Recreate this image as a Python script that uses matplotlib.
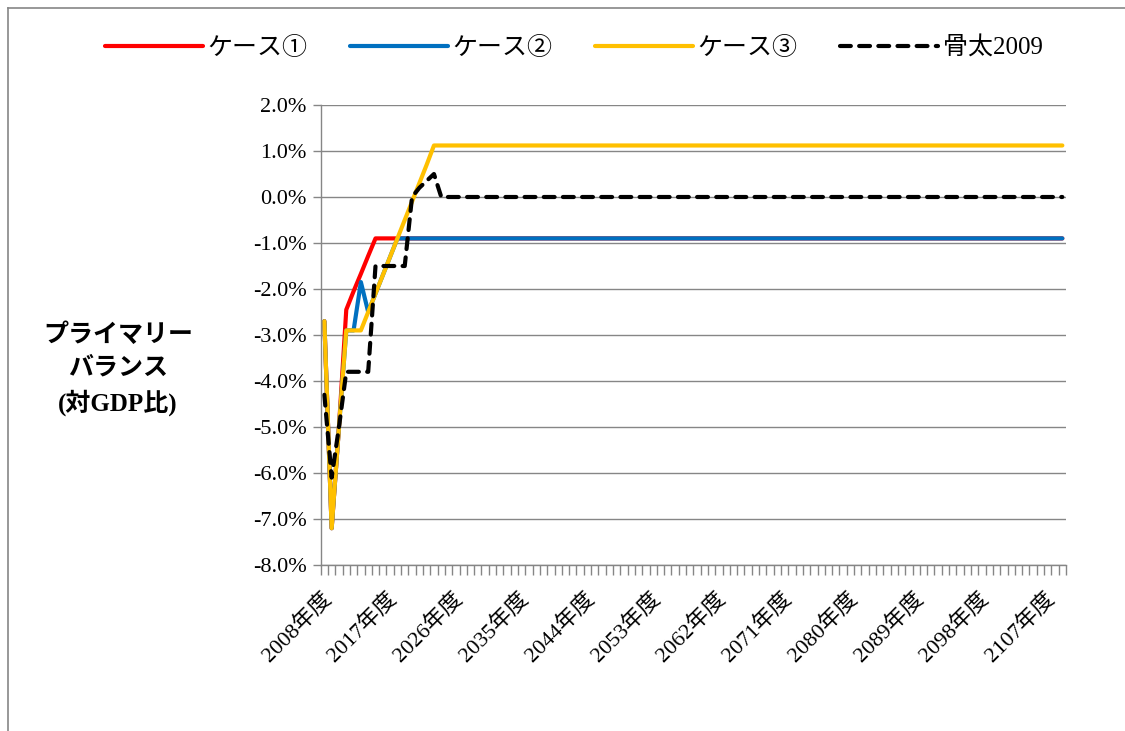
import numpy as np
import matplotlib
matplotlib.use("Agg")
import matplotlib.pyplot as plt
from matplotlib.lines import Line2D
import matplotlib.transforms as mtransforms

# fiscal years 2008..2109
years = list(range(2008, 2110))

# values (% of GDP); flat after the early years
case1 = [-2.7, -7.2, -5.0, -2.45, -2.05, -1.67, -1.28, -0.9] + [-0.9] * 94
case2 = [-2.7, -7.2, -5.0, -2.9, -2.9, -1.85, -2.5, -2.1, -1.7, -1.3, -0.9] + [-0.9] * 91
case3 = [-2.7, -7.2, -5.0, -2.9, -2.9, -2.9, -2.5, -2.1, -1.7, -1.3, -0.9,
         -0.5, -0.1, 0.3, 0.7, 1.12] + [1.12] * 86
honebuto = [-4.3, -6.1, -5.0, -3.8, -3.8, -3.8, -3.8, -1.5, -1.5, -1.5, -1.5,
            -1.5, 0.0, 0.2, 0.35, 0.5, 0.0] + [0.0] * 85

names = ['ケース①', 'ケース②', 'ケース③', '骨太2009']
colors = ['#FF0000', '#0070C0', '#FFC000', '#000000']
ytick_vals = [2.0, 1.0, 0.0, -1.0, -2.0, -3.0, -4.0, -5.0, -6.0, -7.0, -8.0]

fonts = ['Liberation Serif', 'Noto Sans CJK JP', 'DejaVu Sans']
plt.rcParams['font.family'] = fonts

W, H = 1125, 731
fig = plt.figure(figsize=(W / 100, H / 100), dpi=100)
ax = fig.add_axes([320.7 / W, 1 - 565 / H, (1066 - 320.7) / W, (565 - 105) / H])

x = np.arange(len(years))
series = [case1, case2, case3]
for vals, name, col in zip(series, names[:3], colors[:3]):
    ax.plot(x, vals, color=col, lw=3, label=name, solid_capstyle='round', solid_joinstyle='round')
ax.plot(x, honebuto, color=colors[3], lw=3, ls=(0, (2.6, 2.0)), dash_capstyle='round',
        label=names[3])

ax.set_xlim(-0.5, len(years) - 0.5)
ax.set_ylim(-8.0, 2.0)

ax.set_yticks(ytick_vals)
ax.set_yticklabels([f'{v:.1f}%' for v in ytick_vals], fontsize=16)
ax.tick_params(axis='y', direction='out', length=6, width=1, color='#868686', pad=4)

lab_idx = list(range(0, len(years), 9))
ax.set_xticks(lab_idx)
ax.set_xticklabels([f'{years[i]}年度' for i in lab_idx], fontsize=16, rotation=45,
                   ha='right', va='center', rotation_mode='anchor')
ax.set_xticks(np.arange(-0.5, len(years)), minor=True)
ax.tick_params(axis='x', which='major', length=0, pad=22)
ax.tick_params(axis='x', which='minor', direction='out', length=7, width=1, color='#868686')
offset = mtransforms.ScaledTranslation(4 / 100, 0, fig.dpi_scale_trans)
for lab in ax.get_xticklabels():
    lab.set_transform(lab.get_transform() + offset)

ax.grid(axis='y', color='#868686', lw=1)
ax.set_axisbelow(True)
for s in ['top', 'right']:
    ax.spines[s].set_visible(False)
for s in ['left', 'bottom']:
    ax.spines[s].set_color('#868686')
    ax.spines[s].set_linewidth(1)

fig.text(118 / W, 1 - 370 / H, 'プライマリー\nバランス\n(対GDP比)', ha='center', va='center',
         multialignment='center', fontsize=18, fontweight='bold', linespacing=1.5)

fig.legend(loc='center', bbox_to_anchor=(574 / W, 1 - 48 / H), ncol=4, frameon=False,
           fontsize=18, handlelength=3.9, handletextpad=0.2, columnspacing=1.7)

# chart frame
fig.add_artist(Line2D([8 / W, 8 / W], [0, 1 - 8 / H], color='#868686', lw=1.2))
fig.add_artist(Line2D([8 / W, 1], [1 - 8 / H, 1 - 8 / H], color='#868686', lw=1.2))

fig.savefig('out.png', dpi=100)
